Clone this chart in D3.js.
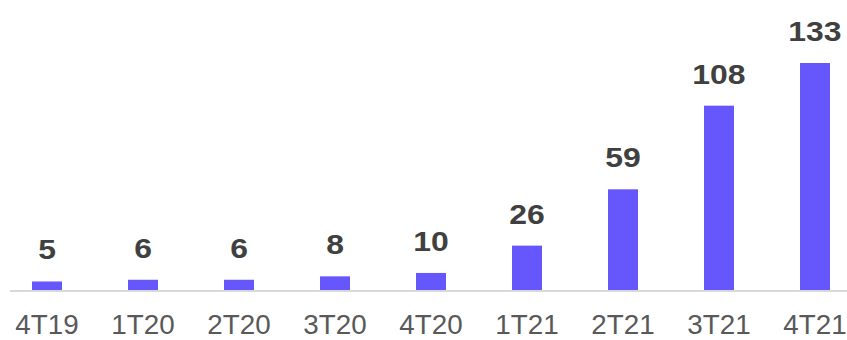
<!DOCTYPE html>
<html>
<head>
<meta charset="utf-8">
<script src="https://cdn.jsdelivr.net/npm/d3@7"></script>
<style>
  body { margin: 0; background: #fff; }
</style>
</head>
<body>
<div id="chart"></div>
<script>
// chart data
const quarters = ["4T19", "1T20", "2T20", "3T20", "4T20", "1T21", "2T21", "3T21", "4T21"];
const values = [5, 6, 6, 8, 10, 26, 59, 108, 133];

const width = 847;
const height = 340;
const baseY = 290;

const svg = d3.select("#chart")
    .append("svg")
    .attr("width", width)
    .attr("height", height);

const x = d3.scaleBand()
    .domain(quarters)
    .range([-1, 863])
    .paddingInner(0.6875)
    .paddingOuter(0.34375);

const y = d3.scaleLinear()
    .domain([0, 133])
    .range([baseY, 63]);

const data = quarters.map((q, i) => ({q: q, v: values[i]}));

// bars
svg.append("g")
    .selectAll("rect")
    .data(data)
    .enter().append("rect")
        .attr("x", d => x(d.q))
        .attr("y", d => y(d.v))
        .attr("width", x.bandwidth())
        .attr("height", d => baseY - y(d.v))
        .attr("fill", "#6657fc");

// baseline
svg.append("line")
    .attr("x1", 10)
    .attr("x2", width)
    .attr("y1", baseY + 1)
    .attr("y2", baseY + 1)
    .attr("stroke", "#d9d9d9")
    .attr("stroke-width", 2);

// value labels
svg.append("g")
    .selectAll("text")
    .data(data)
    .enter().append("text")
        .attr("transform", d => `translate(${x(d.q) + x.bandwidth() / 2}, ${y(d.v) - 22}) scale(1.14,1)`)
        .attr("text-anchor", "middle")
        .style("font", "bold 28px Arial, 'Liberation Sans', sans-serif")
        .style("fill", "#404040")
        .text(d => d.v);

// category axis
const axis = svg.append("g")
    .attr("transform", `translate(0, ${baseY})`)
    .call(d3.axisBottom(x).tickSize(0));

axis.select(".domain").remove();
axis.selectAll("text")
    .attr("y", 44)
    .attr("dy", 0)
    .attr("transform", "scale(1.03,1)")
    .style("font", "27px Arial, 'Liberation Sans', sans-serif")
    .style("fill", "#595959");
</script>
</body>
</html>
